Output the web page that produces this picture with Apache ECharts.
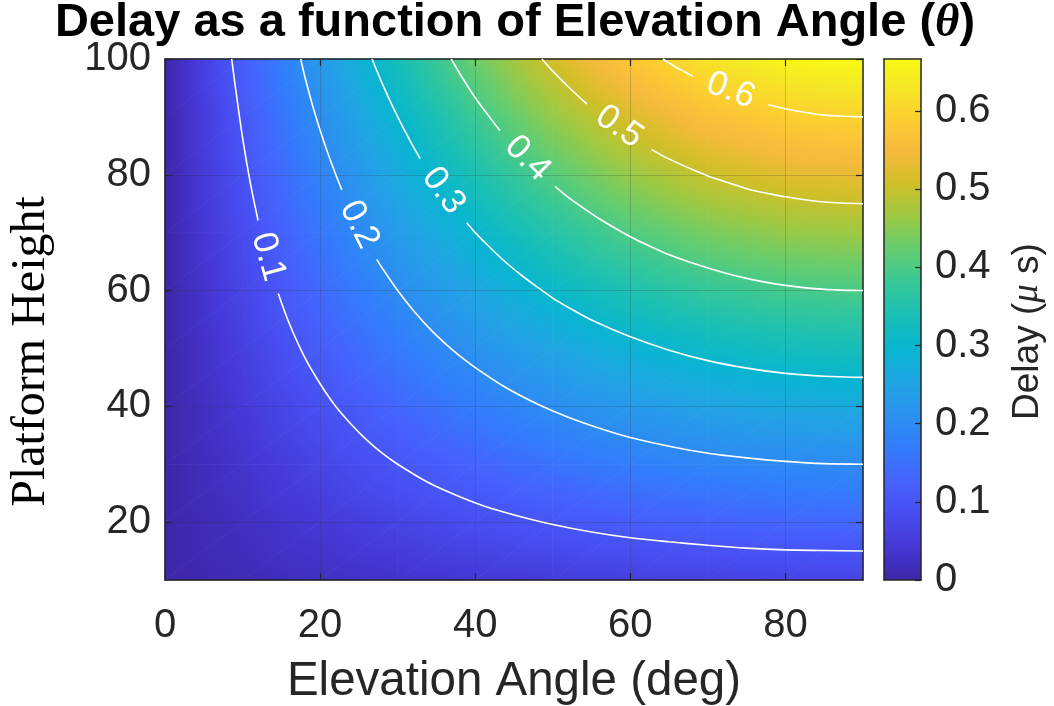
<!DOCTYPE html>
<html>
<head>
<meta charset="utf-8">
<title>Delay as a function of Elevation Angle</title>
<script src="https://cdn.jsdelivr.net/npm/echarts@6/dist/echarts.min.js"></script>
<style>
  html, body { margin: 0; padding: 0; background: #fff; }
  #chart { width: 1054px; height: 706px; }
</style>
</head>
<body>
<div id="chart"></div>
<script>
// Sample grid of the delay surface
const angles = [0, 10, 20, 30, 40, 50, 60, 70, 80, 90];           // elevation angle (deg)
const heights = [10, 20, 30, 40, 50, 60, 70, 80, 90, 100];         // platform height
// delay (µs): one row per height (10 → 100), one column per angle (0 → 90)
const delay = [
  [0, 0.0116, 0.0228, 0.0333, 0.0429, 0.0511, 0.0577, 0.0626, 0.0657, 0.0667],
  [0, 0.0232, 0.0456, 0.0667, 0.0857, 0.1021, 0.1155, 0.1253, 0.1313, 0.1333],
  [0, 0.0347, 0.0684, 0.1000, 0.1286, 0.1532, 0.1732, 0.1879, 0.1970, 0.2000],
  [0, 0.0463, 0.0912, 0.1333, 0.1714, 0.2043, 0.2309, 0.2506, 0.2626, 0.2667],
  [0, 0.0579, 0.1140, 0.1667, 0.2143, 0.2553, 0.2887, 0.3132, 0.3283, 0.3333],
  [0, 0.0695, 0.1368, 0.2000, 0.2571, 0.3064, 0.3464, 0.3759, 0.3939, 0.4000],
  [0, 0.0810, 0.1596, 0.2333, 0.3000, 0.3575, 0.4041, 0.4385, 0.4596, 0.4667],
  [0, 0.0926, 0.1824, 0.2667, 0.3428, 0.4085, 0.4619, 0.5012, 0.5252, 0.5333],
  [0, 0.1042, 0.2052, 0.3000, 0.3857, 0.4596, 0.5196, 0.5638, 0.5909, 0.6000],
  [0, 0.1158, 0.2280, 0.3333, 0.4286, 0.5107, 0.5774, 0.6265, 0.6565, 0.6667]
];

// Tick labels
const angleTicks = [0, 20, 40, 60, 80];
const heightTicks = [20, 40, 60, 80, 100];
const delayTicks = [0, 0.1, 0.2, 0.3, 0.4, 0.5, 0.6];

// Iso-delay contours as [angle, height] points; each is split where its label sits
const contourLevels = [0.1, 0.2, 0.3, 0.4, 0.5, 0.6];
const contourHead = [   // top edge down to the label
  [[8.6, 100], [9, 95.9], [10, 86.4], [11, 78.6], [12, 72.1]],
  [[17.5, 100], [18, 97.1], [19, 92.1], [20, 87.7], [21, 83.7], [22, 80.1], [22.8, 77.4]],
  [[26.7, 100], [28, 95.8], [30, 90.0], [32, 84.9], [32.9, 82.8]],
  [[36.9, 100], [38, 97.5], [40, 93.3], [42, 89.7], [43.2, 87.6]],
  [[48.6, 100], [50, 97.9], [52, 95.2], [54.4, 92.2]],
  [[64.2, 100], [65, 99.3], [66, 98.5], [67, 97.8], [68.1, 97.0]]
];
const contourTail = [   // label on to the right edge
  [[14.6, 59.5], [16, 54.4], [18, 48.5], [20, 43.9], [22, 40.0], [24, 36.9], [26, 34.2], [28, 31.9],
   [30, 30.0], [34, 26.8], [38, 24.4], [42, 22.4], [46, 20.9], [50, 19.6], [55, 18.3], [60, 17.3],
   [65, 16.6], [70, 16.0], [75, 15.5], [80, 15.2], [85, 15.1], [90, 15.0]],
  [[27.3, 65.4], [28, 63.9], [30, 60.0], [32, 56.6], [34, 53.6], [36, 51.0], [38, 48.7], [40, 46.7],
   [44, 43.2], [48, 40.4], [52, 38.1], [56, 36.2], [60, 34.6], [65, 33.1], [70, 31.9], [75, 31.1],
   [80, 30.5], [85, 30.1], [90, 30.0]],
  [[38.9, 71.7], [40, 70.0], [42, 67.3], [44, 64.8], [46, 62.6], [48, 60.6], [50, 58.7], [52, 57.1],
   [55, 54.9], [60, 52.0], [65, 49.7], [70, 47.9], [75, 46.6], [80, 45.7], [85, 45.2], [90, 45.0]],
  [[50.3, 78.0], [52, 76.1], [54, 74.2], [56, 72.4], [58, 70.8], [60, 69.3], [62, 68.0], [65, 66.2],
   [70, 63.9], [75, 62.1], [80, 60.9], [85, 60.2], [90, 60.0]],
  [[62.75, 84.4], [64, 83.4], [66, 82.1], [68, 80.9], [70, 79.8], [72, 78.9], [75, 77.6], [78, 76.7],
   [80, 76.2], [85, 75.3], [90, 75.0]],
  [[77.8, 92.1], [80, 91.4], [82, 90.9], [85, 90.3], [88, 90.1], [90, 90.0]]
];

// Parula colormap stops
const parula = [
  [0, '#3E26A8'], [4 / 63, '#4537D5'], [8 / 63, '#484DF0'], [12 / 63, '#4563FD'],
  [16 / 63, '#327CFC'], [20 / 63, '#2B91EF'], [24 / 63, '#20A5E3'], [28 / 63, '#08B5D0'],
  [32 / 63, '#19BFB6'], [36 / 63, '#37C897'], [40 / 63, '#64CD6F'], [44 / 63, '#9DC943'],
  [48 / 63, '#D1BF27'], [52 / 63, '#F8BA3D'], [56 / 63, '#FCCF30'], [60 / 63, '#F5E924'],
  [1, '#F9FB15']
];

const cbMin = 0;
const cbMax = Math.max.apply(null, delay.map(r => Math.max.apply(null, r)));

const ink = '#262626';
const sans = '"Liberation Sans", Arial, Helvetica, sans-serif';
const serif = '"Liberation Serif", "Times New Roman", serif';

function hexRgb(h) {
  return [parseInt(h.slice(1, 3), 16), parseInt(h.slice(3, 5), 16), parseInt(h.slice(5, 7), 16)];
}
const parulaRgb = parula.map(s => [s[0], hexRgb(s[1])]);

function colorAt(v) {
  let f = (v - cbMin) / (cbMax - cbMin);
  f = Math.max(0, Math.min(1, f));
  for (let k = 1; k < parulaRgb.length; k++) {
    const a = parulaRgb[k - 1], b = parulaRgb[k];
    if (f <= b[0]) {
      const t = (f - a[0]) / (b[0] - a[0]);
      const c = a[1].map((x, i) => Math.round(x + (b[1][i] - x) * t));
      return 'rgb(' + c.join(',') + ')';
    }
  }
  const last = parulaRgb[parulaRgb.length - 1][1];
  return 'rgb(' + last.join(',') + ')';
}

// One triangle of the surface, shaded with a linear gradient through its corner values
function shadedTriangle(pts, vals) {
  const [p1, p2, p3] = pts;
  const [v1, v2, v3] = vals;
  const d1x = p2[0] - p1[0], d1y = p2[1] - p1[1];
  const d2x = p3[0] - p1[0], d2y = p3[1] - p1[1];
  const e1 = v2 - v1, e2 = v3 - v1;
  const det = d1x * d2y - d1y * d2x;
  const lo = Math.min(v1, v2, v3), hi = Math.max(v1, v2, v3);
  let fill;
  if (Math.abs(det) < 1e-9 || hi - lo < 1e-9) {
    fill = colorAt(v1);
  } else {
    const gx = (e1 * d2y - e2 * d1y) / det;
    const gy = (d1x * e2 - d2x * e1) / det;
    const g2 = gx * gx + gy * gy;
    const sx = p1[0] + (lo - v1) * gx / g2, sy = p1[1] + (lo - v1) * gy / g2;
    const ex = p1[0] + (hi - v1) * gx / g2, ey = p1[1] + (hi - v1) * gy / g2;
    const stops = [];
    for (let k = 0; k <= 10; k++) {
      const t = k / 10;
      stops.push({ offset: t, color: colorAt(lo + t * (hi - lo)) });
    }
    fill = new echarts.graphic.LinearGradient(sx, sy, ex, ey, stops, true);
  }
  return {
    type: 'polygon',
    shape: { points: pts },
    style: { fill: fill, stroke: fill, lineWidth: 0.8 }
  };
}

// Surface cells: [a0, h0, a1, h1, v(a0,h0), v(a1,h0), v(a0,h1), v(a1,h1)]
const cells = [];
for (let j = 0; j < heights.length - 1; j++) {
  for (let i = 0; i < angles.length - 1; i++) {
    cells.push([angles[i], heights[j], angles[i + 1], heights[j + 1],
      delay[j][i], delay[j][i + 1], delay[j + 1][i], delay[j + 1][i + 1]]);
  }
}

// Label anchors: the two ends of each contour's gap
const labelData = contourLevels.map((lv, i) => {
  const a = contourHead[i][contourHead[i].length - 1];
  const b = contourTail[i][0];
  return [a[0], a[1], b[0], b[1], lv];
});

const boxLine = { show: true, onZero: false, lineStyle: { color: ink, width: 1.5 } };
const tickStyle = { color: ink, width: 1.2 };
const labelFont = { fontFamily: sans, fontSize: 40, color: ink };

const contourSeries = contourLevels.map((lv, i) => ({
  name: 'level ' + lv,
  type: 'line',
  xAxisIndex: 0,
  yAxisIndex: 0,
  data: contourHead[i].concat([['-', '-']], contourTail[i]),
  showSymbol: false,
  symbol: 'none',
  smooth: 0.3,
  connectNulls: false,
  silent: true,
  z: 3,
  lineStyle: { color: '#ffffff', width: 1.6 }
}));

const chart = echarts.init(document.getElementById('chart'), null, { renderer: 'canvas' });

chart.setOption({
  animation: false,
  backgroundColor: '#ffffff',
  title: {
    text: 'Delay as a function of Elevation Angle ({th|θ})',
    left: 515,
    top: 0,
    textAlign: 'center',
    padding: 0,
    textStyle: {
      fontFamily: sans,
      fontWeight: 'bold',
      fontSize: 47,
      color: '#000',
      rich: {
        th: { fontFamily: serif, fontStyle: 'italic', fontSize: 47, color: '#000' }
      }
    }
  },
  grid: [
    { left: 165, top: 59, width: 698, height: 521, containLabel: false, outerBoundsMode: 'none' },
    { left: 884, top: 59, width: 37, height: 521, containLabel: false, outerBoundsMode: 'none' }
  ],
  xAxis: [
    {
      gridIndex: 0, type: 'value', min: 0, max: 90, interval: 20, position: 'bottom',
      name: 'Elevation Angle (deg)', nameLocation: 'middle', nameGap: 78,
      nameTextStyle: { fontFamily: sans, fontSize: 47.5, color: ink },
      axisLine: boxLine,
      axisTick: { show: true, inside: true, length: 7, customValues: angleTicks, lineStyle: tickStyle },
      axisLabel: Object.assign({ customValues: angleTicks, margin: 26 }, labelFont),
      splitLine: { show: true, lineStyle: { color: 'rgba(38,38,38,0.2)', width: 1 } }
    },
    {
      gridIndex: 0, type: 'value', min: 0, max: 90, interval: 20, position: 'top',
      axisLine: boxLine,
      axisTick: { show: true, inside: true, length: 7, customValues: angleTicks, lineStyle: tickStyle },
      axisLabel: { show: false },
      splitLine: { show: false }
    },
    {
      gridIndex: 1, type: 'value', min: 0, max: 1, position: 'bottom',
      axisLine: boxLine, axisTick: { show: false }, axisLabel: { show: false }, splitLine: { show: false }
    },
    {
      gridIndex: 1, type: 'value', min: 0, max: 1, position: 'top',
      axisLine: boxLine, axisTick: { show: false }, axisLabel: { show: false }, splitLine: { show: false }
    }
  ],
  yAxis: [
    {
      gridIndex: 0, type: 'value', min: 10, max: 100, position: 'left',
      name: 'Platform Height', nameLocation: 'middle', nameGap: 110, nameRotate: 90,
      nameTextStyle: { fontFamily: serif, fontSize: 48, color: '#000', padding: [0, 64, 0, 0] },
      axisLine: boxLine,
      axisTick: { show: true, inside: true, length: 7, customValues: heightTicks, lineStyle: tickStyle },
      axisLabel: Object.assign({ customValues: heightTicks, margin: 14, padding: [6, 0, 0, 0] }, labelFont),
      splitLine: { show: true, lineStyle: { color: 'rgba(38,38,38,0.2)', width: 1 } }
    },
    {
      gridIndex: 0, type: 'value', min: 10, max: 100, position: 'right',
      axisLine: boxLine,
      axisTick: { show: true, inside: true, length: 7, customValues: heightTicks, lineStyle: tickStyle },
      axisLabel: { show: false },
      splitLine: { show: false }
    },
    {
      gridIndex: 1, type: 'value', min: cbMin, max: cbMax, position: 'right',
      name: 'Delay ({mu|μ} s)', nameLocation: 'middle', nameGap: 88, nameRotate: 90,
      nameTextStyle: {
        fontFamily: sans, fontSize: 37, color: ink, padding: [0, 24, 0, 0],
        rich: { mu: { fontFamily: serif, fontStyle: 'italic', fontSize: 37, color: ink } }
      },
      axisLine: boxLine,
      axisTick: { show: true, inside: true, length: 6, customValues: delayTicks, lineStyle: tickStyle },
      axisLabel: Object.assign({ customValues: delayTicks, margin: 14, padding: [8, 0, 0, 0] }, labelFont),
      splitLine: { show: false }
    },
    {
      gridIndex: 1, type: 'value', min: cbMin, max: cbMax, position: 'left',
      axisLine: boxLine, axisTick: { show: false }, axisLabel: { show: false }, splitLine: { show: false }
    }
  ],
  series: [
    {
      name: 'delay surface',
      type: 'custom',
      xAxisIndex: 0,
      yAxisIndex: 0,
      z: -1,
      silent: true,
      encode: { x: [0, 2], y: [1, 3] },
      data: cells,
      renderItem: function (params, api) {
        const a0 = api.value(0), h0 = api.value(1), a1 = api.value(2), h1 = api.value(3);
        const q00 = api.coord([a0, h0]), q10 = api.coord([a1, h0]);
        const q01 = api.coord([a0, h1]), q11 = api.coord([a1, h1]);
        const w00 = api.value(4), w10 = api.value(5), w01 = api.value(6), w11 = api.value(7);
        return {
          type: 'group',
          children: [
            shadedTriangle([q00, q10, q11], [w00, w10, w11]),
            shadedTriangle([q00, q11, q01], [w00, w11, w01])
          ]
        };
      }
    },
    ...contourSeries,
    {
      name: 'contour labels',
      type: 'custom',
      xAxisIndex: 0,
      yAxisIndex: 0,
      z: 4,
      silent: true,
      encode: { x: [0, 2], y: [1, 3] },
      data: labelData,
      renderItem: function (params, api) {
        const pa = api.coord([api.value(0), api.value(1)]);
        const pb = api.coord([api.value(2), api.value(3)]);
        const ang = Math.atan2(pb[1] - pa[1], pb[0] - pa[0]);
        return {
          type: 'text',
          x: (pa[0] + pb[0]) / 2,
          y: (pa[1] + pb[1]) / 2,
          rotation: -ang,
          style: {
            text: String(api.value(4)),
            fill: '#ffffff',
            fontFamily: sans,
            fontSize: 35,
            align: 'center',
            verticalAlign: 'middle'
          }
        };
      }
    },
    {
      name: 'colorbar',
      type: 'custom',
      xAxisIndex: 2,
      yAxisIndex: 2,
      z: -1,
      silent: true,
      encode: { x: [0, 2], y: [1, 3] },
      data: [[0, cbMin, 1, cbMax]],
      renderItem: function (params, api) {
        const p0 = api.coord([api.value(0), api.value(1)]);
        const p1 = api.coord([api.value(2), api.value(3)]);
        return {
          type: 'rect',
          shape: { x: p0[0], y: p1[1], width: p1[0] - p0[0], height: p0[1] - p1[1] },
          style: {
            fill: new echarts.graphic.LinearGradient(0, 1, 0, 0,
              parula.map(s => ({ offset: s[0], color: s[1] })))
          }
        };
      }
    }
  ]
});
</script>
</body>
</html>
